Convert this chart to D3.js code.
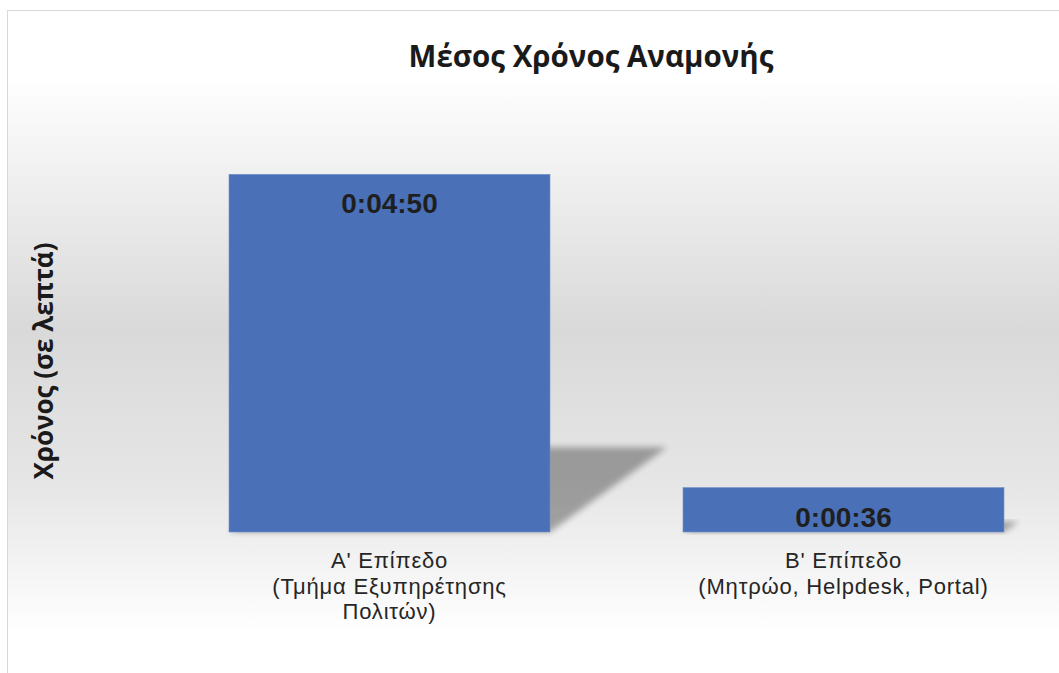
<!DOCTYPE html>
<html>
<head>
<meta charset="utf-8">
<script src="https://cdn.jsdelivr.net/npm/d3@7"></script>
<style>
  body { margin: 0; background: #fff; }
  svg { display: block; }
</style>
</head>
<body>
<div id="chart"></div>
<script>
// data
const categories = ["A", "B"];
const categoryLines = [
  ["Α' Επίπεδο", "(Τμήμα Εξυπηρέτησης", "Πολιτών)"],
  ["Β' Επίπεδο", "(Μητρώο, Helpdesk, Portal)"]
];
const waitSeconds = [290, 36];
const chartTitle = "Μέσος Χρόνος Αναμονής";
const yTitle = "Χρόνος (σε λεπτά)";

const width = 1059, height = 673;
const barColor = "#4a71b7";

function fmtTime(s) {
  const h = Math.floor(s / 3600);
  const m = Math.floor((s % 3600) / 60);
  const sec = s % 60;
  return h + ":" + String(m).padStart(2, "0") + ":" + String(sec).padStart(2, "0");
}

const data = categories.map((c, i) => ({ code: c, value: waitSeconds[i], lines: categoryLines[i] }));

const svg = d3.select("#chart").append("svg")
  .attr("width", width)
  .attr("height", height);

const defs = svg.append("defs");

// chart area background gradient
const grad = defs.append("linearGradient")
  .attr("id", "bg")
  .attr("gradientUnits", "userSpaceOnUse")
  .attr("x1", 0).attr("x2", 0)
  .attr("y1", 10).attr("y2", 673);
grad.append("stop").attr("offset", "0").attr("stop-color", "#ffffff");
grad.append("stop").attr("offset", "0.1").attr("stop-color", "#ffffff");
grad.append("stop").attr("offset", "0.48").attr("stop-color", "#d9d9d9");
grad.append("stop").attr("offset", "0.72").attr("stop-color", "#e6e6e6");
grad.append("stop").attr("offset", "0.94").attr("stop-color", "#ffffff");
grad.append("stop").attr("offset", "1").attr("stop-color", "#ffffff");

const blur = defs.append("filter")
  .attr("id", "shadowBlur")
  .attr("x", "-20%").attr("y", "-20%").attr("width", "140%").attr("height", "140%");
blur.append("feGaussianBlur").attr("stdDeviation", 3);

svg.append("rect")
  .attr("x", 7.5).attr("y", 10.5)
  .attr("width", 1100).attr("height", 700)
  .attr("fill", "url(#bg)")
  .attr("stroke", "#d9d9d9")
  .attr("stroke-width", 1);

// SCALES
const xScale = d3.scaleBand()
  .domain(categories)
  .range([162.5, 1070.5])
  .paddingInner(0.293)
  .paddingOuter(0.1465);

const yScale = d3.scaleLinear()
  .domain([0, 360])
  .range([532, 88]);

const g = svg.append("g");

// perspective shadows behind the bars
g.selectAll(".shadow")
  .data(data)
  .enter().append("polygon")
  .attr("class", "shadow")
  .attr("points", d => {
    const x0 = xScale(d.code), x1 = x0 + xScale.bandwidth();
    const yb = yScale(0);
    const h = yb - yScale(d.value);
    const sh = h * 0.237, sk = h * 0.327;
    return [[x0, yb], [x1, yb], [x1 + sk, yb - sh], [x0 + sk, yb - sh]]
      .map(p => p.join(",")).join(" ");
  })
  .attr("fill", "#000")
  .attr("opacity", 0.32)
  .attr("filter", "url(#shadowBlur)");

// BARS
g.selectAll(".bar")
  .data(data)
  .enter().append("rect")
  .attr("class", "bar")
  .attr("x", d => xScale(d.code))
  .attr("y", d => yScale(d.value))
  .attr("width", xScale.bandwidth())
  .attr("height", d => yScale(0) - yScale(d.value))
  .attr("fill", barColor)
  .attr("stroke", "#6f8fcb")
  .attr("stroke-width", 0.6);

// value labels (inside end)
g.selectAll(".val")
  .data(data)
  .enter().append("text")
  .attr("class", "val")
  .attr("x", d => xScale(d.code) + xScale.bandwidth() / 2)
  .attr("y", d => yScale(d.value) + 39)
  .attr("text-anchor", "middle")
  .style("font-family", "'Liberation Sans', Arial, sans-serif")
  .style("font-weight", "bold")
  .style("font-size", "28px")
  .attr("fill", "#1f1f1f")
  .text(d => fmtTime(d.value));

// X AXIS (no line, no ticks)
const xAxis = d3.axisBottom(xScale).tickSize(0).tickFormat("");
const xg = svg.append("g")
  .attr("class", "x axis")
  .attr("transform", "translate(0," + yScale(0) + ")")
  .call(xAxis);
xg.select(".domain").remove();

xg.selectAll(".tick").each(function (c, i) {
  const t = d3.select(this).select("text")
    .attr("y", 0)
    .attr("dy", null)
    .attr("text-anchor", "middle")
    .style("font-family", "'Liberation Sans', Arial, sans-serif")
    .style("font-size", "22px")
    .style("letter-spacing", "0.8px")
    .attr("fill", "#262626");
  categoryLines[i].forEach((line, k) => {
    t.append("tspan")
      .attr("x", 0)
      .attr("y", 36 + k * 25.5)
      .text(line);
  });
});

// title
svg.append("text")
  .attr("x", 591)
  .attr("y", 67)
  .attr("text-anchor", "middle")
  .style("font-family", "'Open Sans', 'Noto Sans', sans-serif")
  .style("font-weight", "bold")
  .style("font-size", "29.5px")
  .attr("fill", "#1a1a1a")
  .text(chartTitle);

// y axis title
svg.append("text")
  .attr("transform", "translate(53,361) rotate(-90)")
  .attr("text-anchor", "middle")
  .style("font-family", "'Open Sans', 'Noto Sans', sans-serif")
  .style("font-weight", "bold")
  .style("font-size", "26px")
  .attr("fill", "#1a1a1a")
  .text(yTitle);
</script>
</body>
</html>
